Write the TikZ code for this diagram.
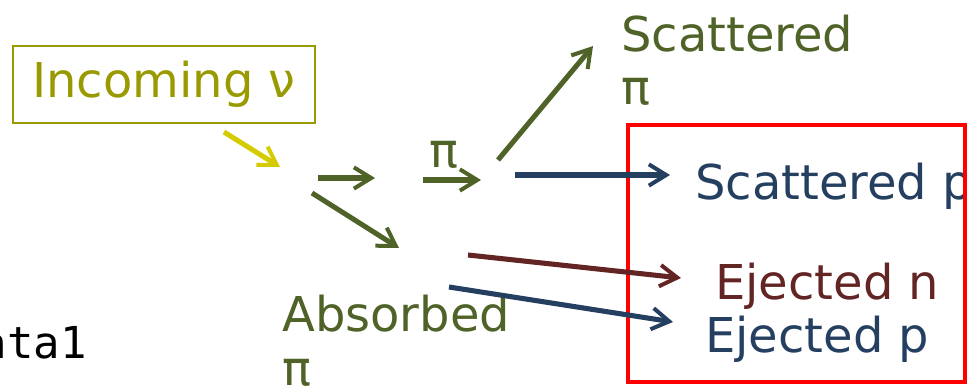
\documentclass[tikz,border=0pt]{standalone}
\usepackage{fontspec}
\setmainfont{DejaVu Sans}
\setmonofont{DejaVu Sans Mono}
\usetikzlibrary{arrows.meta}
\definecolor{cgreen}{HTML}{4F6228}
\definecolor{cblue}{HTML}{243F60}
\definecolor{cred}{HTML}{632523}
\definecolor{cyell}{HTML}{D4CC00}
\definecolor{colive}{HTML}{999900}
\tikzset{
  lbl/.style={inner sep=0pt, font=\fontsize{36}{40}\selectfont, align=left},
  arr/.style={line width=3.8pt, -{Straight Barb[length=13pt,width=16pt,line width=3pt]}},
}
\begin{document}
\begin{tikzpicture}[x=0.75pt,y=-0.75pt]
\useasboundingbox (0,0) rectangle (967,388);
\clip (0,0) rectangle (967,388);
% legend remnant
\node[inner sep=0pt, anchor=base east, font=\ttfamily\fontsize{33}{38}\selectfont] (leg) at (87,358) {data1};
% incoming box
\node[draw=colive, line width=1.2pt, text=colive, font=\fontsize{36}{40}\selectfont, minimum width=302*0.75pt, minimum height=77*0.75pt, inner sep=0pt] (inc) at (164,84.5) {Incoming ν};
% labels
\node[lbl, text=cgreen, anchor=base west] (scpi) at (621,105) {Scattered\\π};
\node[lbl, text=cgreen, anchor=base west] (abs) at (282,385) {Absorbed\\π};
\node[lbl, text=cgreen, anchor=base west] (pilab) at (429,168) {π};
\node[lbl, text=cblue, anchor=base west] (scp) at (695,200) {Scattered p};
\node[lbl, text=cred, anchor=base west] (ejn) at (715,300) {Ejected n};
\node[lbl, text=cblue, anchor=base west] (ejp) at (705,352) {Ejected p};
% red box
\node[draw=red, line width=3pt, inner sep=0pt, minimum width=337*0.75pt, minimum height=257*0.75pt] (box) at (796.5,253.5) {};
% arrow endpoints
\coordinate (a1s) at (224,132); \coordinate (a1e) at (280,167);
\coordinate (a2s) at (318,178); \coordinate (a2e) at (375,178);
\coordinate (a3s) at (312,193); \coordinate (a3e) at (399,248);
\coordinate (a4s) at (423,180); \coordinate (a4e) at (481,180);
\coordinate (a5s) at (498,160); \coordinate (a5e) at (593,46);
\coordinate (a6s) at (515,175); \coordinate (a6e) at (670,175);
\coordinate (a7s) at (468,255); \coordinate (a7e) at (681,278);
\coordinate (a8s) at (449,287); \coordinate (a8e) at (673,322);
\draw[arr, cyell] (a1s) -- (a1e);
\draw[arr, cgreen] (a2s) -- (a2e);
\draw[arr, cgreen] (a3s) -- (a3e);
\draw[arr, cgreen] (a4s) -- (a4e);
\draw[arr, cgreen] (a5s) -- (a5e);
\draw[arr, cblue] (a6s) -- (a6e);
\draw[arr, cred] (a7s) -- (a7e);
\draw[arr, cblue] (a8s) -- (a8e);
\end{tikzpicture}
\end{document}
